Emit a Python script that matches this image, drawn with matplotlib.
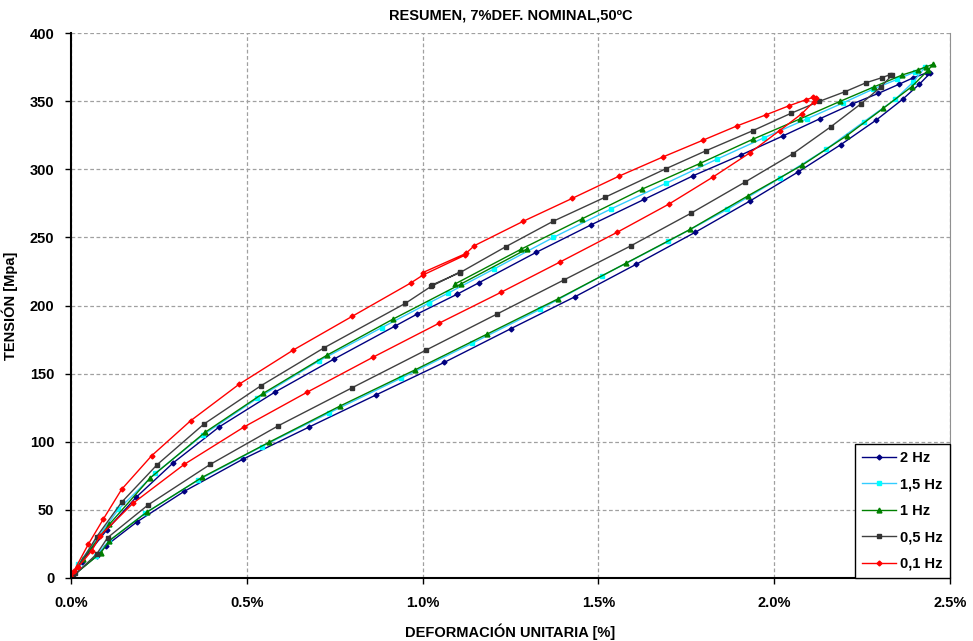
import numpy as np
import matplotlib
matplotlib.use('Agg')
import matplotlib.pyplot as plt
from matplotlib.ticker import FuncFormatter, MultipleLocator

plt.rcParams['font.family'] = ['Liberation Sans', 'DejaVu Sans']

# deformacion [%] / tension [MPa], in drawing order
def_2hz = [1.099, 1.160, 1.323, 1.480, 1.630, 1.770, 1.905, 2.026, 2.130, 2.222, 2.296, 2.354,
           2.396, 2.434, 2.443, 2.413, 2.365, 2.290, 2.189, 2.069, 1.931, 1.775, 1.607, 1.433,
           1.251, 1.062, 0.867, 0.677, 0.488, 0.322, 0.187, 0.0995, 0.073, 0.002, 0.03, 0.1015,
           0.185, 0.291, 0.422, 0.579, 0.748, 0.9215, 0.985, 1.099]
ten_2hz = [208.4, 216.7, 239.0, 259.3, 277.9, 295.3, 310.4, 324.6, 337.1, 347.9, 355.7, 362.3,
           367.2, 370.8, 370.4, 362.5, 351.3, 336.1, 318.0, 298.2, 276.7, 253.7, 230.2, 206.4,
           183.0, 158.3, 134.3, 110.8, 87.1, 63.6, 41.1, 23.7, 16.1, 1.0, 12.0, 35.2,
           59.2, 84.6, 111.0, 136.3, 160.7, 184.9, 193.8, 208.4]

def_15hz = [1.019, 1.071, 1.203, 1.372, 1.535, 1.692, 1.838, 1.971, 2.092, 2.195, 2.282, 2.350,
            2.400, 2.429, 2.396, 2.344, 2.255, 2.147, 2.015, 1.867, 1.698, 1.509, 1.334, 1.140,
            0.938, 0.735, 0.542, 0.362, 0.210, 0.109, 0.07, 0.002, 0.02, 0.135, 0.239, 0.375,
            0.530, 0.705, 0.884, 1.019]
ten_15hz = [202.0, 208.9, 226.8, 250.0, 270.8, 289.7, 307.5, 323.1, 336.9, 348.6, 358.9, 366.0,
            371.4, 375.0, 364.2, 351.3, 334.9, 314.6, 293.3, 270.6, 247.0, 221.6, 197.2, 172.2,
            146.6, 121.3, 96.4, 71.9, 47.5, 27.4, 16.0, 1.0, 10.0, 50.4, 76.8, 104.9,
            131.9, 159.3, 183.8, 202.0]

def_1hz = [1.092, 1.279, 1.454, 1.625, 1.789, 1.939, 2.073, 2.187, 2.285, 2.364, 2.410, 2.432,
           2.451, 2.438, 2.391, 2.310, 2.206, 2.080, 1.926, 1.761, 1.578, 1.386, 1.184, 0.978,
           0.765, 0.563, 0.373, 0.215, 0.109, 0.085, 0.003, 0.033, 0.109, 0.225, 0.381, 0.547,
           0.727, 0.915, 1.109, 1.296]
ten_1hz = [215.8, 241.2, 263.7, 285.5, 304.3, 322.0, 336.9, 349.8, 360.6, 369.2, 373.0, 375.2,
           377.0, 372.8, 360.6, 344.7, 324.6, 303.1, 280.6, 255.9, 231.0, 205.0, 179.1, 152.7,
           126.2, 99.6, 73.9, 48.2, 27.4, 18.6, 1.0, 13.7, 39.4, 73.4, 106.9, 135.6,
           163.4, 189.9, 215.8, 241.4]

def_05hz = [1.026, 1.106, 1.236, 1.371, 1.520, 1.692, 1.806, 1.939, 2.047, 2.128, 2.201, 2.261,
            2.306, 2.329, 2.335, 2.303, 2.247, 2.161, 2.053, 1.917, 1.763, 1.593, 1.403, 1.212,
            1.010, 0.800, 0.590, 0.396, 0.219, 0.104, 0.073, 0.005, 0.01, 0.073, 0.144, 0.245,
            0.378, 0.540, 0.720, 0.951, 1.024, 1.105]
ten_05hz = [215.0, 224.1, 243.1, 261.8, 279.6, 300.4, 313.6, 328.3, 341.0, 349.8, 356.9, 363.5,
            367.2, 369.4, 369.2, 360.3, 348.1, 331.2, 311.4, 290.6, 267.7, 243.9, 218.9, 193.8,
            167.3, 139.7, 111.8, 83.4, 53.6, 29.6, 17.6, 1.0, 4.0, 30.3, 55.6, 83.2,
            113.0, 141.1, 169.0, 201.6, 214.0, 224.5]

def_01hz = [1.000, 1.123, 1.147, 1.286, 1.426, 1.559, 1.685, 1.798, 1.893, 1.977, 2.042, 2.090,
            2.111, 2.118, 2.113, 2.078, 2.015, 1.931, 1.827, 1.701, 1.553, 1.392, 1.223, 1.0475,
            0.860, 0.671, 0.493, 0.322, 0.177, 0.0825, 0.059, 0.02, 0.0, 0.008, 0.049, 0.092,
            0.144, 0.2295, 0.340, 0.478, 0.632, 0.800, 0.966, 1.002, 1.121]
ten_01hz = [224.1, 238.2, 243.9, 261.8, 278.7, 295.0, 309.2, 321.4, 331.7, 340.0, 346.6, 351.0,
            352.8, 352.3, 349.6, 340.7, 328.3, 312.1, 294.5, 274.5, 253.7, 232.1, 209.7, 187.1,
            162.2, 136.3, 111.0, 83.4, 55.0, 31.0, 20.0, 8.0, 0.5, 5.0, 24.7, 43.3,
            65.1, 89.8, 115.4, 142.2, 167.3, 192.1, 216.5, 222.5, 237.0]

series = [
    ('2 Hz', def_2hz, ten_2hz, '#000080', '#000080', 'D', 2.5),
    ('1,5 Hz', def_15hz, ten_15hz, '#33CCFF', '#00FFFF', 's', 3.5),
    ('1 Hz', def_1hz, ten_1hz, '#008000', '#008000', '^', 3.5),
    ('0,5 Hz', def_05hz, ten_05hz, '#404040', '#333333', 's', 3.5),
    ('0,1 Hz', def_01hz, ten_01hz, '#FF0000', '#FF0000', 'D', 2.5),
]

fig = plt.figure(figsize=(9.73, 6.41), dpi=100)
ax = fig.add_axes([0.073, 0.0983, 0.9034, 0.8502])

for lab, xs, ys, lc, mc, mk, ms in series:
    ax.plot(xs, ys, color=lc, lw=1.0, marker=mk, ms=ms, mfc=mc, mec=mc, label=lab)

ax.set_xlim(0, 2.5)
ax.set_ylim(0, 400)
ax.xaxis.set_major_locator(MultipleLocator(0.5))
ax.yaxis.set_major_locator(MultipleLocator(50))
ax.xaxis.set_major_formatter(FuncFormatter(lambda v, p: f'{v:.1f}%'))
ax.grid(True, color='#a0a0a0', ls=(0, (3, 2)), lw=0.9)
ax.set_axisbelow(True)

ax.spines['top'].set_visible(False)
ax.spines['right'].set_color('#909090')
ax.spines['left'].set_linewidth(1.5)
ax.spines['bottom'].set_linewidth(1.5)
ax.tick_params(axis='both', direction='out', length=4, width=1, labelsize=10.5)
ax.tick_params(axis='y', pad=8)
ax.tick_params(axis='x', pad=9)
for t in ax.get_xticklabels() + ax.get_yticklabels():
    t.set_fontweight('bold')

ax.set_title('RESUMEN, 7%DEF. NOMINAL,50ºC', fontsize=10.5, fontweight='bold', pad=10)
ax.set_xlabel('DEFORMACIÓN UNITARIA [%]', fontsize=10.5, fontweight='bold', labelpad=10)
ax.set_ylabel('TENSIÓN [Mpa]', fontsize=10.5, fontweight='bold')
ax.yaxis.set_label_coords(-0.060, 0.5)

leg = ax.legend(loc='lower right', bbox_to_anchor=(1.0, 0.0), fancybox=False, framealpha=1,
                edgecolor='black', prop={'weight': 'bold', 'size': 10.5},
                handlelength=2.3, borderpad=0.5, labelspacing=0.85, handletextpad=0.3,
                borderaxespad=0.0)
leg.get_frame().set_linewidth(1.0)

fig.savefig('out.png', dpi=100)
